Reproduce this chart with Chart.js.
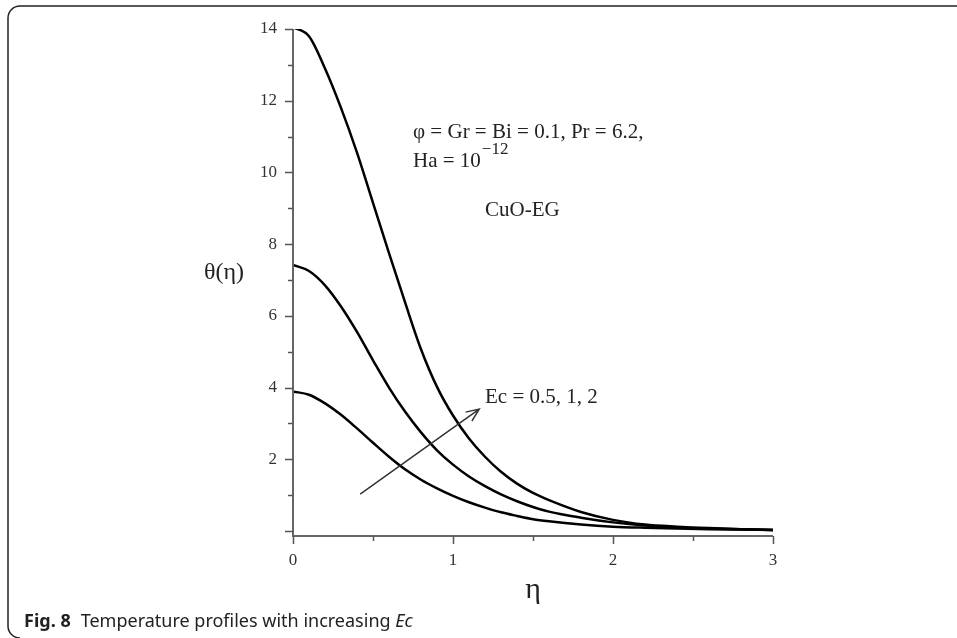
<!DOCTYPE html>
<html>
<head>
<meta charset="utf-8">
<script src="https://cdn.jsdelivr.net/npm/chart.js@4.4.1/dist/chart.umd.min.js"></script>
<style>
  body { margin: 0; background: #fff; }
  #wrap { position: relative; width: 957px; height: 638px; }
</style>
</head>
<body>
<div id="wrap"><canvas id="myChart"></canvas></div>
<script>
// eta values and temperature profiles
const eta  = [0, 0.1, 0.2, 0.3, 0.4, 0.5, 0.6, 0.7, 0.8, 0.9, 1.0, 1.1, 1.2, 1.3, 1.4, 1.5, 1.6, 1.8, 2.0, 2.2, 2.4, 2.6, 2.8, 3.0];
const ec05 = [3.89, 3.8, 3.56, 3.24, 2.86, 2.46, 2.07, 1.72, 1.43, 1.19, 0.98, 0.8, 0.65, 0.52, 0.42, 0.33, 0.27, 0.18, 0.12, 0.09, 0.07, 0.05, 0.04, 0.03];
const ec1  = [7.42, 7.25, 6.85, 6.26, 5.55, 4.76, 4.0, 3.33, 2.75, 2.25, 1.85, 1.52, 1.25, 1.02, 0.83, 0.67, 0.54, 0.37, 0.24, 0.15, 0.1, 0.07, 0.05, 0.03];
const ec2  = [14.05, 13.8, 12.9, 11.8, 10.55, 9.15, 7.75, 6.38, 5.07, 4.02, 3.22, 2.58, 2.07, 1.65, 1.32, 1.06, 0.86, 0.53, 0.31, 0.18, 0.12, 0.08, 0.05, 0.03];

const xTicks = [0, 0.5, 1, 1.5, 2, 2.5, 3];
const yTicks = [0, 1, 2, 3, 4, 5, 6, 7, 8, 9, 10, 11, 12, 13, 14];

// arrow for increasing Ec, in data units
const arrowFrom = [0.42, 1.03];
const arrowTo = [1.164, 3.40];

const pts = ys => eta.map((x, i) => ({ x: x, y: ys[i] }));

const serif = '"Liberation Serif", "Times New Roman", serif';
const sans = '"Noto Sans", "Open Sans", sans-serif';

const decorations = {
  id: 'decorations',
  afterDraw(chart) {
    const { ctx, chartArea: a, scales: { x, y } } = chart;
    ctx.save();

    // frame of the figure
    ctx.strokeStyle = '#222';
    ctx.lineWidth = 1.5;
    ctx.beginPath();
    ctx.moveTo(970, 6);
    ctx.lineTo(20, 6);
    ctx.arcTo(8, 6, 8, 18, 12);
    ctx.lineTo(8, 626);
    ctx.arcTo(8, 638, 20, 638, 12);
    ctx.stroke();

    // axes
    ctx.strokeStyle = '#666';
    ctx.lineWidth = 2;
    ctx.beginPath();
    ctx.moveTo(a.left, a.top);
    ctx.lineTo(a.left, a.bottom);
    ctx.lineTo(a.right, a.bottom);
    ctx.stroke();

    ctx.lineWidth = 1.5;
    ctx.strokeStyle = '#555';
    ctx.beginPath();
    xTicks.forEach(v => {
      const px = Math.round(x.getPixelForValue(v)) + 0.5;
      const len = Number.isInteger(v) ? 8 : 5;
      ctx.moveTo(px, a.bottom);
      ctx.lineTo(px, a.bottom + len);
    });
    yTicks.forEach(v => {
      const py = Math.round(y.getPixelForValue(v)) + 0.5;
      const len = v % 2 === 0 ? 8 : 5;
      ctx.moveTo(a.left, py);
      ctx.lineTo(a.left - len, py);
    });
    ctx.stroke();

    // arrow
    const x0 = x.getPixelForValue(arrowFrom[0]), y0 = y.getPixelForValue(arrowFrom[1]);
    const x1 = x.getPixelForValue(arrowTo[0]), y1 = y.getPixelForValue(arrowTo[1]);
    const ang = Math.atan2(y1 - y0, x1 - x0);
    ctx.strokeStyle = '#333';
    ctx.lineWidth = 1.5;
    ctx.beginPath();
    ctx.moveTo(x0, y0);
    ctx.lineTo(x1, y1);
    ctx.moveTo(x1 - 14 * Math.cos(ang - 0.4), y1 - 14 * Math.sin(ang - 0.4));
    ctx.lineTo(x1, y1);
    ctx.lineTo(x1 - 14 * Math.cos(ang + 0.4), y1 - 14 * Math.sin(ang + 0.4));
    ctx.stroke();

    // texts
    ctx.fillStyle = '#222';
    ctx.textBaseline = 'middle';
    ctx.textAlign = 'left';
    ctx.font = '21px ' + serif;
    ctx.fillText('φ = Gr = Bi = 0.1, Pr = 6.2,', x.getPixelForValue(0.75), y.getPixelForValue(11.1));
    const hx = x.getPixelForValue(0.75), hy = y.getPixelForValue(10.3);
    ctx.fillText('Ha = 10', hx, hy);
    const hw = ctx.measureText('Ha = 10').width;
    ctx.font = '17px ' + serif;
    ctx.fillText('−12', hx + hw + 1, hy - 12);
    ctx.font = '21px ' + serif;
    ctx.fillText('CuO-EG', x.getPixelForValue(1.2), y.getPixelForValue(8.93));
    ctx.fillText('Ec = 0.5, 1, 2', x.getPixelForValue(1.2), y.getPixelForValue(3.71));

    ctx.textAlign = 'center';
    ctx.font = '24px ' + serif;
    ctx.fillText('θ(η)', 224, y.getPixelForValue(7.2));
    ctx.font = '30px ' + serif;
    ctx.fillText('η', x.getPixelForValue(1.5), 590);

    // caption
    ctx.textAlign = 'left';
    ctx.font = 'bold 18px ' + sans;
    ctx.fillText('Fig. 8', 24, 622);
    const fw = ctx.measureText('Fig. 8').width;
    ctx.font = '18px ' + sans;
    const cap = 'Temperature profiles with increasing ';
    ctx.fillText(cap, 24 + fw + 10, 622);
    const tw = ctx.measureText(cap).width;
    ctx.font = 'italic 18px ' + sans;
    ctx.fillText('Ec', 24 + fw + 10 + tw, 622);

    ctx.restore();
  }
};

const line = (label, ys) => ({
  label: label,
  data: pts(ys),
  borderColor: '#000',
  borderWidth: 2.5,
  pointRadius: 0,
  cubicInterpolationMode: 'monotone',
  fill: false
});

new Chart(document.getElementById('myChart'), {
  type: 'line',
  data: {
    datasets: [line('Ec = 0.5', ec05), line('Ec = 1', ec1), line('Ec = 2', ec2)]
  },
  options: {
    responsive: true,
    maintainAspectRatio: false,
    animation: false,
    layout: { padding: { top: 29, right: 184, bottom: 0, left: 0 } },
    plugins: { legend: { display: false }, tooltip: { enabled: false } },
    scales: {
      x: {
        type: 'linear',
        min: 0,
        max: 3,
        afterBuildTicks: s => { s.ticks = xTicks.map(v => ({ value: v })); },
        afterFit: s => { s.height = 102; },
        border: { display: false },
        grid: { drawOnChartArea: false, drawTicks: true, tickLength: 8, color: 'rgba(0,0,0,0)' },
        ticks: {
          padding: 6,
          color: '#333',
          font: { family: serif, size: 17 },
          maxRotation: 0,
          autoSkip: false,
          callback: v => Number.isInteger(v) ? String(v) : ''
        }
      },
      y: {
        type: 'linear',
        min: -0.14,
        max: 14,
        afterBuildTicks: s => { s.ticks = yTicks.map(v => ({ value: v })); },
        afterFit: s => { s.width = 293; },
        border: { display: false },
        grid: { drawOnChartArea: false, drawTicks: true, tickLength: 8, color: 'rgba(0,0,0,0)' },
        ticks: {
          padding: 8,
          color: '#333',
          font: { family: serif, size: 17 },
          autoSkip: false,
          callback: v => (v % 2 === 0 && v > 0) ? String(v) : ''
        }
      }
    }
  },
  plugins: [decorations]
});
</script>
</body>
</html>
